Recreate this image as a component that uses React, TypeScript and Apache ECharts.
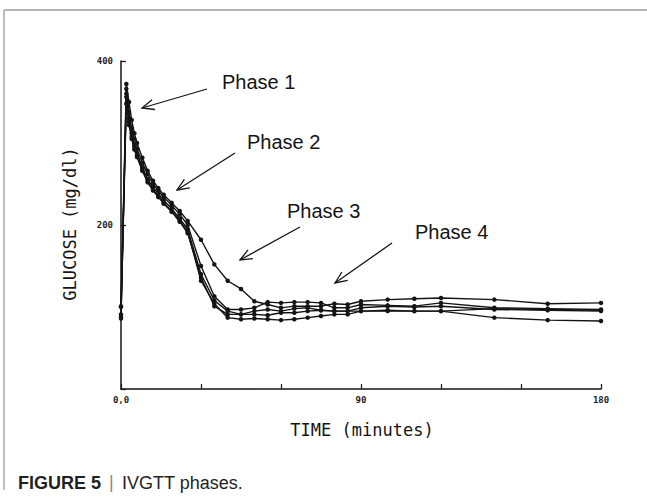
import React, { useEffect, useRef } from "react";
import * as echarts from "echarts";

const times = [0, 2, 3, 4, 5, 6, 8, 10, 12, 14, 16, 19, 22, 25, 30, 35, 40, 45, 50, 55, 60, 65, 70, 75, 80, 85, 90, 100, 110, 120, 140, 160, 180];

const subjectA = [101, 372, 350, 328, 312, 300, 282, 266, 254, 245, 237, 227, 217, 205, 182, 152, 132, 122, 107, 103, 99, 101, 101, 101, 104, 103, 107, 109, 110, 111, 109, 104, 105];
const subjectB = [91, 366, 338, 318, 305, 293, 276, 262, 250, 242, 234, 224, 213, 200, 150, 113, 97, 97, 99, 106, 105, 106, 106, 105, 99, 99, 103, 102, 101, 105, 99, 98, 97];
const subjectC = [86, 356, 330, 312, 298, 288, 270, 256, 246, 238, 230, 220, 208, 195, 140, 108, 95, 91, 95, 97, 95, 98, 99, 96, 95, 95, 99, 101, 100, 101, 97, 96, 95];
const subjectD = [100, 348, 322, 305, 292, 283, 266, 252, 242, 234, 226, 216, 204, 190, 136, 101, 91, 91, 91, 90, 93, 93, 95, 96, 95, 95, 95, 96, 95, 95, 98, 97, 96];
const subjectE = [88, 360, 326, 308, 295, 285, 268, 254, 243, 235, 227, 217, 206, 192, 132, 104, 87, 85, 86, 85, 84, 85, 87, 89, 91, 91, 95, 95, 95, 95, 87, 84, 83];

const subjects = [subjectA, subjectB, subjectC, subjectD, subjectE];

const xTickLabels: Record<number, string> = { 0: "0,0", 90: "90", 180: "180" };
const yTickLabels: Record<number, string> = { 200: "200", 400: "400" };

const phaseLabels = ["Phase 1", "Phase 2", "Phase 3", "Phase 4"];

const INK = "#141414";

function arrow(x1: number, y1: number, x2: number, y2: number) {
  const ang = Math.atan2(y2 - y1, x2 - x1);
  const L = 13;
  const a = 0.4;
  const p1 = [x2 - L * Math.cos(ang - a), y2 - L * Math.sin(ang - a)];
  const p2 = [x2 - L * Math.cos(ang + a), y2 - L * Math.sin(ang + a)];
  return [
    { type: "line", shape: { x1, y1, x2, y2 }, style: { stroke: INK, lineWidth: 1.3 } },
    { type: "polyline", shape: { points: [p1, [x2, y2], p2] }, style: { stroke: INK, lineWidth: 1.3, fill: null } },
  ];
}

export default function App() {
  const ref = useRef<HTMLDivElement>(null);
  useEffect(() => {
    if (!ref.current) return;
    const chart = echarts.init(ref.current, null, { renderer: "svg" });
    const phaseFont = '20px "Liberation Sans", Arial, sans-serif';
    const phasePos = [
      [222, 82],
      [247, 142],
      [287, 211],
      [415, 232],
    ];
    chart.setOption({
      animation: false,
      backgroundColor: "#ffffff",
      grid: { left: 121, top: 61, right: 46, bottom: 110 },
      xAxis: {
        type: "value",
        min: 0,
        max: 180,
        interval: 30,
        axisLine: { lineStyle: { color: INK, width: 1.5 } },
        axisTick: { inside: true, length: 5, lineStyle: { color: INK, width: 1.2 } },
        axisLabel: {
          formatter: (v: number) => xTickLabels[v] ?? "",
          fontSize: 9,
          fontWeight: "bold",
          fontFamily: '"DejaVu Sans Mono", monospace',
          color: "#222",
          margin: 6,
        },
        splitLine: { show: false },
      },
      yAxis: {
        type: "value",
        min: 0,
        max: 400,
        interval: 200,
        axisLine: { show: true, lineStyle: { color: INK, width: 1.5 } },
        axisTick: { show: true, inside: true, length: 5, lineStyle: { color: INK, width: 1.2 } },
        axisLabel: {
          formatter: (v: number) => yTickLabels[v] ?? "",
          fontSize: 9,
          fontWeight: "bold",
          fontFamily: '"DejaVu Sans Mono", monospace',
          color: "#222",
          margin: 8,
        },
        splitLine: { show: false },
      },
      series: subjects.map((vals, i) => ({
        type: "line",
        name: "S" + (i + 1),
        data: times.map((t, k) => [t, vals[k]]),
        symbol: "circle",
        symbolSize: 4.5,
        showSymbol: true,
        lineStyle: { color: INK, width: 1.4 },
        itemStyle: { color: INK },
        z: 2,
      })),
      graphic: [
        { type: "line", shape: { x1: 4, y1: 10, x2: 647, y2: 10 }, style: { stroke: "#9c9c9c", lineWidth: 1.3 } },
        { type: "line", shape: { x1: 4, y1: 10, x2: 4, y2: 490 }, style: { stroke: "#9c9c9c", lineWidth: 1.3 } },
        ...phaseLabels.map((t, i) => ({
          type: "text",
          x: phasePos[i][0],
          y: phasePos[i][1],
          style: { text: t, font: phaseFont, fill: INK, verticalAlign: "middle", align: "left" },
        })),
        ...arrow(207, 89, 142, 108),
        ...arrow(235, 153, 177, 190),
        ...arrow(300, 227, 240, 260),
        ...arrow(392, 243, 335, 283),
        {
          type: "text",
          x: 70,
          y: 224,
          rotation: Math.PI / 2,
          style: { text: "GLUCOSE (mg/dl)", font: '17px "DejaVu Sans Mono", monospace', fill: INK, align: "center", verticalAlign: "middle" },
        },
        {
          type: "text",
          x: 362,
          y: 430,
          style: { text: "TIME (minutes)", font: '17px "DejaVu Sans Mono", monospace', fill: INK, align: "center", verticalAlign: "middle" },
        },
        {
          type: "text",
          x: 18,
          y: 483,
          style: { text: "FIGURE 5", font: 'bold 18px "Liberation Sans", Arial, sans-serif', fill: "#231f20", verticalAlign: "middle" },
        },
        {
          type: "text",
          x: 109,
          y: 482,
          style: { text: "|", font: '18px "Liberation Sans", Arial, sans-serif', fill: "#888", verticalAlign: "middle" },
        },
        {
          type: "text",
          x: 122,
          y: 483,
          style: { text: "IVGTT phases.", font: '18px "Liberation Sans", Arial, sans-serif', fill: "#231f20", verticalAlign: "middle" },
        },
      ],
    });
    return () => chart.dispose();
  }, []);
  return <div ref={ref} style={{ position: "fixed", left: 0, top: 0, width: 647, height: 499 }} />;
}
